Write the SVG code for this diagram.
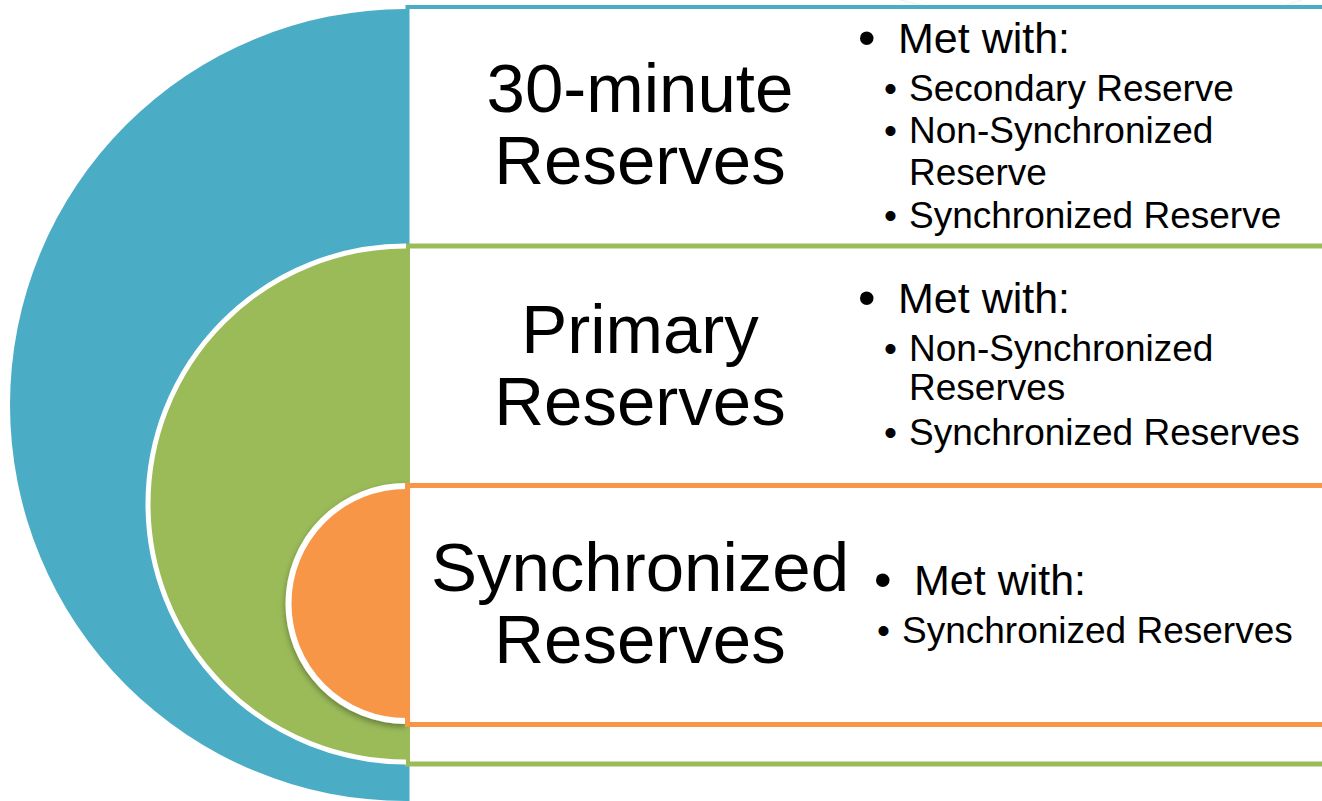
<svg xmlns="http://www.w3.org/2000/svg" width="1322" height="801" viewBox="0 0 1322 801">
  <style>
    .big { font-family: "Liberation Sans", Arial, sans-serif; font-size: 69px; fill: #000; text-anchor: middle; }
    .l1 { font-family: "Liberation Sans", Arial, sans-serif; font-size: 43px; fill: #000; }
    .l2 { font-family: "Liberation Sans", Arial, sans-serif; font-size: 37px; fill: #000; }
    .b1 { font-family: "Liberation Sans", Arial, sans-serif; font-size: 50px; fill: #000; }
    .b2 { font-family: "Liberation Sans", Arial, sans-serif; font-size: 37px; fill: #000; }
    .panel { fill: #ffffff; }
    .rim { fill: none; stroke: #ffffff; }
    .swoosh { fill: none; stroke: #e9e9e9; stroke-width: 1; opacity: 0.7; }
  </style>
  <defs>
    <filter id="softShadow" x="-20%" y="-20%" width="140%" height="140%">
      <feDropShadow dx="0" dy="3" stdDeviation="3" flood-color="#000" flood-opacity="0.35"/>
    </filter>
  </defs>

  <rect width="1322" height="801" fill="#ffffff"/>

  <!-- faint background swoosh lines, top right -->
  <g id="background">
    <path class="swoosh" d="M 900 0 Q 1150 60 1330 -10"/>
    <path class="swoosh" d="M 960 20 Q 1180 70 1330 10"/>
    <path class="swoosh" d="M 1010 45 Q 1200 85 1330 35"/>
    <path class="swoosh" d="M 1100 70 Q 1230 95 1330 60"/>
  </g>

  <!-- outer ring: 30-minute reserves -->
  <g id="outer">
    <rect class="panel" x="407.5" y="7" width="960" height="840" stroke="#4BACC6" stroke-width="4"/>
    <path d="M 406 9 A 396 396 0 0 0 406 801 Z" fill="#4BACC6"/>
  </g>

  <!-- middle ring: primary reserves -->
  <g id="middle">
    <rect class="panel" x="407.5" y="246" width="960" height="518" stroke="#9BBB59" stroke-width="5"/>
    <path d="M 406 246 A 258 258 0 0 0 406 762 Z" fill="#9BBB59"/>
    <path class="rim" d="M 406 246 A 258 258 0 0 0 406 762" stroke-width="5"/>
  </g>

  <!-- inner ring: synchronized reserves -->
  <g id="inner">
    <rect class="panel" x="407.5" y="485.5" width="960" height="239" stroke="#F79646" stroke-width="5"/>
    <g filter="url(#softShadow)">
      <path d="M 406 486 A 117.5 117.5 0 0 0 406 721 Z" fill="#F79646"/>
      <path class="rim" d="M 406 486 A 117.5 117.5 0 0 0 406 721" stroke-width="6"/>
    </g>
    <line x1="407.5" y1="483" x2="407.5" y2="727" stroke="#F79646" stroke-width="5"/>
  </g>

  <!-- labels -->
  <g id="label-30min">
    <text class="big" x="640" y="112">30-minute</text>
    <text class="big" x="640" y="184">Reserves</text>
  </g>
  <g id="label-primary">
    <text class="big" x="640" y="353">Primary</text>
    <text class="big" x="640" y="425">Reserves</text>
  </g>
  <g id="label-sync">
    <text class="big" x="640" y="591">Synchronized</text>
    <text class="big" x="640" y="663">Reserves</text>
  </g>

  <!-- bullet lists -->
  <g id="list-30min">
    <text class="b1" x="858" y="55">•</text>
    <text class="l1" x="898" y="53">Met with:</text>
    <text class="b2" x="884" y="101">•</text>
    <text class="l2" x="909" y="101">Secondary Reserve</text>
    <text class="b2" x="884" y="143">•</text>
    <text class="l2" x="909" y="143">Non-Synchronized</text>
    <text class="l2" x="909" y="185">Reserve</text>
    <text class="b2" x="884" y="228">•</text>
    <text class="l2" x="909" y="228">Synchronized Reserve</text>
  </g>
  <g id="list-primary">
    <text class="b1" x="858" y="315">•</text>
    <text class="l1" x="898" y="313">Met with:</text>
    <text class="b2" x="884" y="361">•</text>
    <text class="l2" x="909" y="361">Non-Synchronized</text>
    <text class="l2" x="909" y="400">Reserves</text>
    <text class="b2" x="884" y="445">•</text>
    <text class="l2" x="909" y="445">Synchronized Reserves</text>
  </g>
  <g id="list-sync">
    <text class="b1" x="874" y="597">•</text>
    <text class="l1" x="914" y="595">Met with:</text>
    <text class="b2" x="877" y="643">•</text>
    <text class="l2" x="902" y="643">Synchronized Reserves</text>
  </g>
</svg>
